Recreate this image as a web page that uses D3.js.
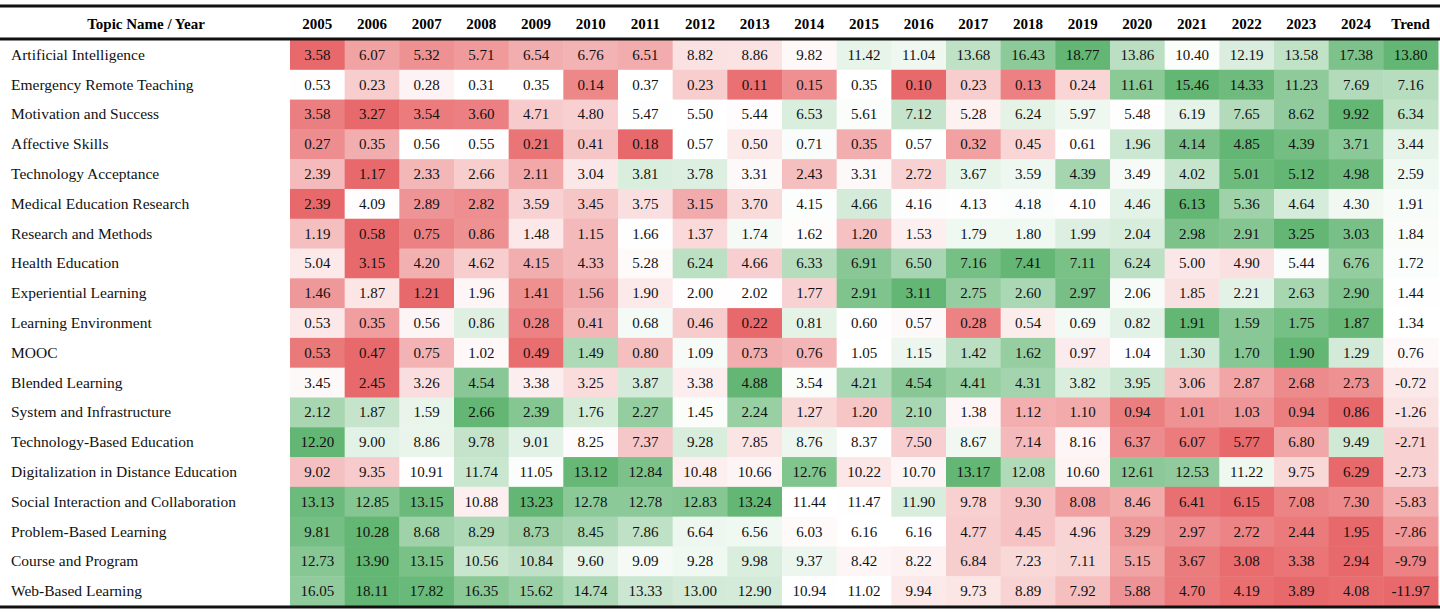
<!DOCTYPE html>
<html>
<head>
<meta charset="utf-8">
<script src="https://cdn.jsdelivr.net/npm/d3@7"></script>
<style>
  body { margin: 0; background: #fff; }
  svg { display: block; font-family: 'Liberation Serif', 'Times New Roman', serif; }
</style>
</head>
<body>
<div></div>
<script>
const years = ['2005', '2006', '2007', '2008', '2009', '2010', '2011', '2012', '2013', '2014',
  '2015', '2016', '2017', '2018', '2019', '2020', '2021', '2022', '2023', '2024'];

const topics = [
  'Artificial Intelligence', 'Emergency Remote Teaching', 'Motivation and Success', 'Affective Skills',
  'Technology Acceptance', 'Medical Education Research', 'Research and Methods', 'Health Education',
  'Experiential Learning', 'Learning Environment', 'MOOC', 'Blended Learning', 'System and Infrastructure',
  'Technology-Based Education', 'Digitalization in Distance Education', 'Social Interaction and Collaboration',
  'Problem-Based Learning', 'Course and Program', 'Web-Based Learning'
];

const values = [
  [3.58, 6.07, 5.32, 5.71, 6.54, 6.76, 6.51, 8.82, 8.86, 9.82, 11.42, 11.04, 13.68, 16.43, 18.77, 13.86, 10.40, 12.19, 13.58, 17.38],
  [0.53, 0.23, 0.28, 0.31, 0.35, 0.14, 0.37, 0.23, 0.11, 0.15, 0.35, 0.10, 0.23, 0.13, 0.24, 11.61, 15.46, 14.33, 11.23, 7.69],
  [3.58, 3.27, 3.54, 3.60, 4.71, 4.80, 5.47, 5.50, 5.44, 6.53, 5.61, 7.12, 5.28, 6.24, 5.97, 5.48, 6.19, 7.65, 8.62, 9.92],
  [0.27, 0.35, 0.56, 0.55, 0.21, 0.41, 0.18, 0.57, 0.50, 0.71, 0.35, 0.57, 0.32, 0.45, 0.61, 1.96, 4.14, 4.85, 4.39, 3.71],
  [2.39, 1.17, 2.33, 2.66, 2.11, 3.04, 3.81, 3.78, 3.31, 2.43, 3.31, 2.72, 3.67, 3.59, 4.39, 3.49, 4.02, 5.01, 5.12, 4.98],
  [2.39, 4.09, 2.89, 2.82, 3.59, 3.45, 3.75, 3.15, 3.70, 4.15, 4.66, 4.16, 4.13, 4.18, 4.10, 4.46, 6.13, 5.36, 4.64, 4.30],
  [1.19, 0.58, 0.75, 0.86, 1.48, 1.15, 1.66, 1.37, 1.74, 1.62, 1.20, 1.53, 1.79, 1.80, 1.99, 2.04, 2.98, 2.91, 3.25, 3.03],
  [5.04, 3.15, 4.20, 4.62, 4.15, 4.33, 5.28, 6.24, 4.66, 6.33, 6.91, 6.50, 7.16, 7.41, 7.11, 6.24, 5.00, 4.90, 5.44, 6.76],
  [1.46, 1.87, 1.21, 1.96, 1.41, 1.56, 1.90, 2.00, 2.02, 1.77, 2.91, 3.11, 2.75, 2.60, 2.97, 2.06, 1.85, 2.21, 2.63, 2.90],
  [0.53, 0.35, 0.56, 0.86, 0.28, 0.41, 0.68, 0.46, 0.22, 0.81, 0.60, 0.57, 0.28, 0.54, 0.69, 0.82, 1.91, 1.59, 1.75, 1.87],
  [0.53, 0.47, 0.75, 1.02, 0.49, 1.49, 0.80, 1.09, 0.73, 0.76, 1.05, 1.15, 1.42, 1.62, 0.97, 1.04, 1.30, 1.70, 1.90, 1.29],
  [3.45, 2.45, 3.26, 4.54, 3.38, 3.25, 3.87, 3.38, 4.88, 3.54, 4.21, 4.54, 4.41, 4.31, 3.82, 3.95, 3.06, 2.87, 2.68, 2.73],
  [2.12, 1.87, 1.59, 2.66, 2.39, 1.76, 2.27, 1.45, 2.24, 1.27, 1.20, 2.10, 1.38, 1.12, 1.10, 0.94, 1.01, 1.03, 0.94, 0.86],
  [12.20, 9.00, 8.86, 9.78, 9.01, 8.25, 7.37, 9.28, 7.85, 8.76, 8.37, 7.50, 8.67, 7.14, 8.16, 6.37, 6.07, 5.77, 6.80, 9.49],
  [9.02, 9.35, 10.91, 11.74, 11.05, 13.12, 12.84, 10.48, 10.66, 12.76, 10.22, 10.70, 13.17, 12.08, 10.60, 12.61, 12.53, 11.22, 9.75, 6.29],
  [13.13, 12.85, 13.15, 10.88, 13.23, 12.78, 12.78, 12.83, 13.24, 11.44, 11.47, 11.90, 9.78, 9.30, 8.08, 8.46, 6.41, 6.15, 7.08, 7.30],
  [9.81, 10.28, 8.68, 8.29, 8.73, 8.45, 7.86, 6.64, 6.56, 6.03, 6.16, 6.16, 4.77, 4.45, 4.96, 3.29, 2.97, 2.72, 2.44, 1.95],
  [12.73, 13.90, 13.15, 10.56, 10.84, 9.60, 9.09, 9.28, 9.98, 9.37, 8.42, 8.22, 6.84, 7.23, 7.11, 5.15, 3.67, 3.08, 3.38, 2.94],
  [16.05, 18.11, 17.82, 16.35, 15.62, 14.74, 13.33, 13.00, 12.90, 10.94, 11.02, 9.94, 9.73, 8.89, 7.92, 5.88, 4.70, 4.19, 3.89, 4.08]
];

const trend = [13.80, 7.16, 6.34, 3.44, 2.59, 1.91, 1.84, 1.72, 1.44, 1.34, 0.76, -0.72, -1.26, -2.71, -2.73, -5.83, -7.86, -9.79, -11.97];

const w = 1440;
const h = 613;
const labelW = 290;
const bodyTop = 40;
const bodyBottom = 606;

const columns = years.concat(['Trend']);

const svg = d3.select('div').append('svg').attr('width', w).attr('height', h);

const x = d3.scaleBand().domain(columns).range([labelW, w - 2]);
const y = d3.scaleBand().domain(topics).range([bodyTop, bodyBottom]);

const red = '#E8696B';
const green = '#63B674';

// three colour scale: min red, median white, max green
const makeColor = (arr) =>
  d3.scaleLinear()
    .domain([d3.min(arr), d3.median(arr), d3.max(arr)])
    .range([red, '#ffffff', green])
    .interpolate(d3.interpolateRgb);

const trendColor = makeColor(trend);

topics.forEach((t, i) => {
  const rowColor = makeColor(values[i]);
  const cells = values[i].map((v, j) => ({ col: years[j], v: v, fill: rowColor(v) }));
  cells.push({ col: 'Trend', v: trend[i], fill: trendColor(trend[i]) });

  const g = svg.append('g').attr('class', 'row');

  g.selectAll('rect')
    .data(cells)
    .enter()
    .append('rect')
    .attr('x', (d) => x(d.col))
    .attr('y', y(t))
    .attr('width', x.bandwidth() + 0.5)
    .attr('height', y.bandwidth() + 0.5)
    .style('fill', (d) => d.fill);

  g.selectAll('text')
    .data(cells)
    .enter()
    .append('text')
    .attr('x', (d) => x(d.col) + x.bandwidth() / 2)
    .attr('y', y(t) + y.bandwidth() / 2 + 5)
    .attr('text-anchor', 'middle')
    .style('font-size', '15px')
    .style('fill', '#111')
    .text((d) => d.v.toFixed(2));

  g.append('text')
    .attr('x', 11)
    .attr('y', y(t) + y.bandwidth() / 2 + 5)
    .style('font-size', '15.5px')
    .style('fill', '#111')
    .text(t);
});

// header
svg.append('text')
  .attr('x', 146)
  .attr('y', 29)
  .attr('text-anchor', 'middle')
  .style('font-size', '15px')
  .style('font-weight', 'bold')
  .text('Topic Name / Year');

svg.selectAll('.head')
  .data(columns)
  .enter()
  .append('text')
  .attr('class', 'head')
  .attr('x', (d) => x(d) + x.bandwidth() / 2)
  .attr('y', 29)
  .attr('text-anchor', 'middle')
  .style('font-size', '15px')
  .style('font-weight', 'bold')
  .text((d) => d);

// rules
[[6, 3], [bodyTop - 1, 3], [bodyBottom + 1, 3]].forEach(([yy, sw]) => {
  svg.append('line')
    .attr('x1', 0).attr('x2', w)
    .attr('y1', yy).attr('y2', yy)
    .style('stroke', '#111')
    .style('stroke-width', sw);
});
</script>
</body>
</html>
